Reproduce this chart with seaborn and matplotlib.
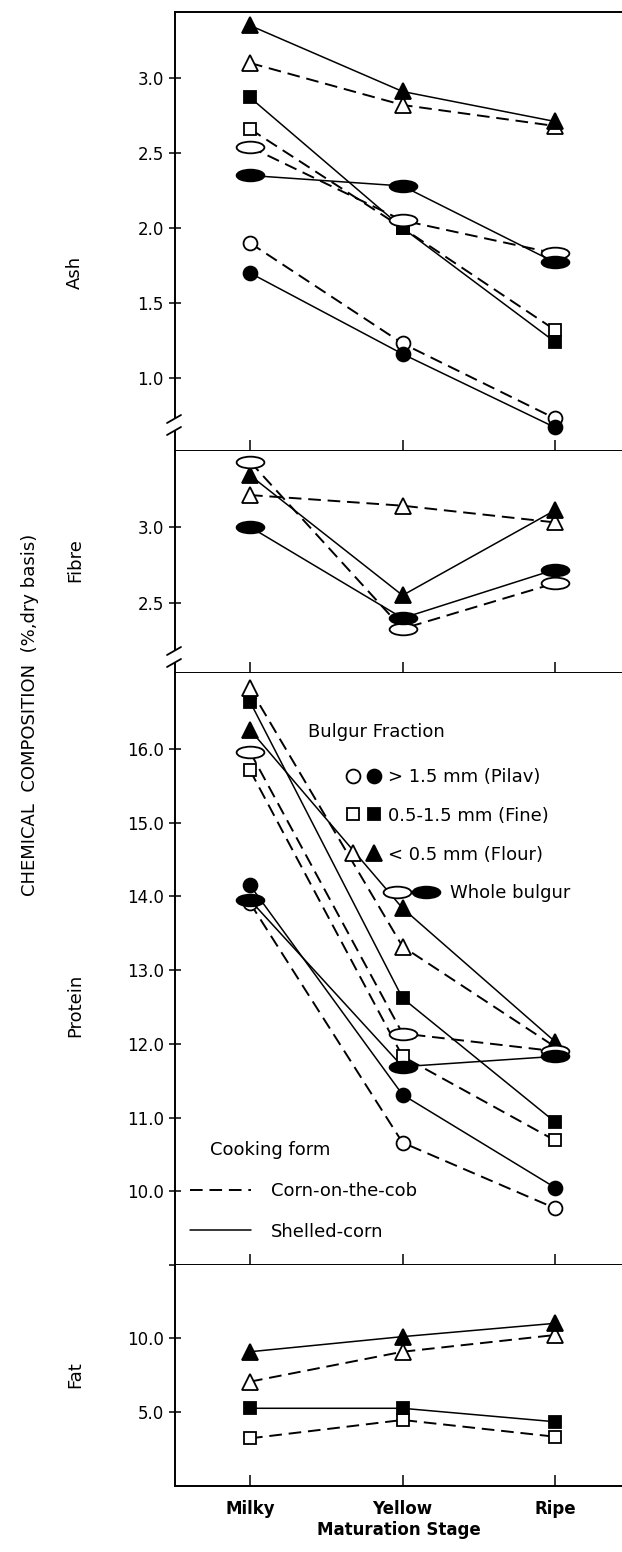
import numpy as np
import pandas as pd
import matplotlib
matplotlib.use("Agg")
import matplotlib.pyplot as plt
import seaborn as sns
from matplotlib.path import Path
from matplotlib.lines import Line2D
from matplotlib.patches import Rectangle
from matplotlib.legend_handler import HandlerTuple

# ---- data (% dry basis) ----
stages = ["Milky", "Yellow", "Ripe"]

ash_pilav_cob = [1.90, 1.23, 0.73]
ash_pilav_shelled = [1.70, 1.16, 0.67]
ash_fine_cob = [2.66, 2.00, 1.32]
ash_fine_shelled = [2.87, 2.00, 1.24]
ash_flour_cob = [3.10, 2.82, 2.68]
ash_flour_shelled = [3.35, 2.91, 2.71]
ash_whole_cob = [2.54, 2.05, 1.83]
ash_whole_shelled = [2.35, 2.28, 1.77]

fibre_flour_cob = [3.21, 3.14, 3.03]
fibre_flour_shelled = [3.34, 2.55, 3.11]
fibre_whole_cob = [3.43, 2.33, 2.63]
fibre_whole_shelled = [3.00, 2.40, 2.72]

protein_pilav_cob = [13.91, 10.66, 9.77]
protein_pilav_shelled = [14.15, 11.31, 10.05]
protein_fine_cob = [15.71, 11.83, 10.69]
protein_fine_shelled = [16.64, 12.62, 10.94]
protein_flour_cob = [16.82, 13.32, 11.96]
protein_flour_shelled = [16.26, 13.84, 12.03]
protein_whole_cob = [15.96, 12.14, 11.90]
protein_whole_shelled = [13.95, 11.69, 11.83]

fat_fine_cob = [3.22, 4.46, 3.33]
fat_fine_shelled = [5.25, 5.25, 4.34]
fat_flour_cob = [7.05, 9.07, 10.20]
fat_flour_shelled = [9.07, 10.09, 10.99]

fraction_labels = ["> 1.5 mm (Pilav)", "0.5-1.5 mm (Fine)", "< 0.5 mm (Flour)", "Whole bulgur"]
form_labels = ["Corn-on-the-cob", "Shelled-corn"]

panels = {
    "Ash": {("pilav", "cob"): ash_pilav_cob, ("pilav", "shelled"): ash_pilav_shelled,
            ("fine", "cob"): ash_fine_cob, ("fine", "shelled"): ash_fine_shelled,
            ("flour", "cob"): ash_flour_cob, ("flour", "shelled"): ash_flour_shelled,
            ("whole", "cob"): ash_whole_cob, ("whole", "shelled"): ash_whole_shelled},
    "Fibre": {("flour", "cob"): fibre_flour_cob, ("flour", "shelled"): fibre_flour_shelled,
              ("whole", "cob"): fibre_whole_cob, ("whole", "shelled"): fibre_whole_shelled},
    "Protein": {("pilav", "cob"): protein_pilav_cob, ("pilav", "shelled"): protein_pilav_shelled,
                ("fine", "cob"): protein_fine_cob, ("fine", "shelled"): protein_fine_shelled,
                ("flour", "cob"): protein_flour_cob, ("flour", "shelled"): protein_flour_shelled,
                ("whole", "cob"): protein_whole_cob, ("whole", "shelled"): protein_whole_shelled},
    "Fat": {("fine", "cob"): fat_fine_cob, ("fine", "shelled"): fat_fine_shelled,
            ("flour", "cob"): fat_flour_cob, ("flour", "shelled"): fat_flour_shelled},
}

rows = []
for panel, series in panels.items():
    for (frac, form), vals in series.items():
        for st, v in zip(stages, vals):
            rows.append({"panel": panel, "fraction": frac, "form": form, "stage": st, "value": v})
df = pd.DataFrame(rows)

# ---- styles ----
sns.set_theme(style="white")
plt.rcParams["font.family"] = ["DejaVu Sans"]
plt.rcParams["axes.linewidth"] = 1.4
for key in ("text.color", "axes.labelcolor", "xtick.color", "ytick.color", "axes.edgecolor"):
    plt.rcParams[key] = "black"

circ = Path.unit_circle()
ellipse = Path(circ.vertices * np.array([1.0, 0.42]), circ.codes)

markers = {"pilav": "o", "fine": "s", "flour": "^", "whole": ellipse}
msizes = {"pilav": 10, "fine": 9, "flour": 11.5, "whole": 20}
lstyle = {"cob": (0, (6.5, 3.5)), "shelled": "-"}
lwidth = {"cob": 1.4, "shelled": 1.1}
face = {"cob": "white", "shelled": "black"}

W, H = 622, 1552
fig = plt.figure(figsize=(W / 100, H / 100), dpi=100)
left = 175

# panel extents in pixels: (top, bottom, ylim, ticks, ticklabels)
layout = {
    "Ash": (12, 451, (0.513, 3.44), [1.0, 1.5, 2.0, 2.5, 3.0], ["1.0", "1.5", "2.0", "2.5", "3.0"]),
    "Fibre": (451, 673, (2.039, 3.50), [2.5, 3.0], ["2.5", "3.0"]),
    "Protein": (673, 1265, (9.0, 17.03), [9, 10, 11, 12, 13, 14, 15, 16],
                ["", "10.0", "11.0", "12.0", "13.0", "14.0", "15.0", "16.0"]),
    "Fat": (1265, 1486, (0.0, 14.93), [5, 10], ["5.0", "10.0"]),
}
label_y = {"Ash": 272, "Fibre": 560, "Protein": 1005, "Fat": 1375}

axes = {}
for name, (top, bot, ylim, ticks, tlabels) in layout.items():
    ax = fig.add_axes([left / W, 1 - bot / H, 1 - left / W, (bot - top) / H])
    axes[name] = ax
    sub = df[df["panel"] == name]
    for (frac, form), g in sub.groupby(["fraction", "form"], sort=False):
        sns.lineplot(data=g, x="stage", y="value", ax=ax, color="black",
                     linestyle=lstyle[form], linewidth=lwidth[form],
                     marker=markers[frac], markersize=msizes[frac],
                     markerfacecolor=face[form], markeredgecolor="black",
                     markeredgewidth=1.3, sort=False, errorbar=None)
    ax.set_xlim(-0.492, 2.439)
    ax.set_ylim(*ylim)
    ax.set_yticks(ticks)
    ax.set_yticklabels(tlabels)
    ax.set_xlabel("")
    ax.set_ylabel("")
    ax.spines["right"].set_visible(False)
    if name != "Ash":
        ax.spines["top"].set_visible(False)
    ax.tick_params(axis="y", direction="inout", length=8, width=1.1, pad=4,
                   labelsize=12, left=True)
    ax.tick_params(axis="x", direction="in", length=8, width=1.1, bottom=True,
                   labelsize=12, pad=10)
    if name != "Fat":
        ax.set_xticklabels([])
    else:
        for t in ax.get_xticklabels():
            t.set_fontweight("bold")
        ax.set_xlabel("Maturation Stage", fontsize=12, fontweight="bold", labelpad=2)
    fig.text(75 / W, 1 - label_y[name] / H, name, rotation=90, ha="center", va="center",
             fontsize=13, family=["Liberation Sans Narrow", "DejaVu Sans"])

fig.text(30 / W, 1 - 715 / H, "CHEMICAL  COMPOSITION  (%,dry basis)", rotation=90,
         ha="center", va="center", fontsize=13,
         family=["Liberation Sans Narrow", "DejaVu Sans"])


# axis breaks on the left spine
def axis_break(y):
    fig.add_artist(Rectangle(((left - 4) / W, 1 - (y + 6) / H), 8 / W, 12 / H,
                             facecolor="white", edgecolor="none", zorder=4))
    for dy in (-6, 6):
        fig.add_artist(Line2D([(left - 8) / W, (left + 6) / W],
                              [1 - (y + dy + 4) / H, 1 - (y + dy - 4) / H],
                              color="black", lw=1.3, zorder=5))


axis_break(425)
axis_break(657)

# ---- legends in the protein panel ----
axp = axes["Protein"]


def px(x, y):
    return ((x - left) / (W - left), 1 - (y - 673) / (1265 - 673))


def pair(frac):
    return tuple(Line2D([], [], ls="none", marker=markers[frac], markersize=msizes[frac],
                        markerfacecolor=f, markeredgecolor="black", markeredgewidth=1.3)
                 for f in ("white", "black"))


axp.text(*px(308, 732), "Bulgur Fraction", transform=axp.transAxes, ha="left",
         va="center", fontsize=13)
leg_a = axp.legend([pair("pilav"), pair("fine"), pair("flour")], fraction_labels[:3],
                   handler_map={tuple: HandlerTuple(ndivide=None, pad=0.0)},
                   loc="upper left", bbox_to_anchor=px(343, 768), frameon=False,
                   fontsize=13, handlelength=2.3, handletextpad=0.2, labelspacing=1.15,
                   borderpad=0, borderaxespad=0)
axp.add_artist(leg_a)
leg_b = axp.legend([pair("whole")], fraction_labels[3:],
                   handler_map={tuple: HandlerTuple(ndivide=None, pad=0.0)},
                   loc="upper left", bbox_to_anchor=px(383, 884), frameon=False,
                   fontsize=13, handlelength=3.2, handletextpad=0.5,
                   borderpad=0, borderaxespad=0)
axp.add_artist(leg_b)

axp.text(*px(210, 1150), "Cooking form", transform=axp.transAxes, ha="left",
         va="center", fontsize=13)
form_handles = [Line2D([], [], color="black", linestyle=lstyle[f], linewidth=lwidth[f])
                for f in ("cob", "shelled")]
leg_c = axp.legend(form_handles, form_labels, loc="upper left", bbox_to_anchor=px(190, 1182),
                   frameon=False, fontsize=13, handlelength=3.4, handletextpad=1.1,
                   labelspacing=1.25, borderpad=0, borderaxespad=0)

fig.savefig("out.png", dpi=100)
